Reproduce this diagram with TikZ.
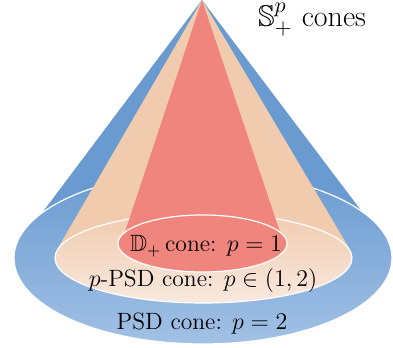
\documentclass[tikz,border=0pt]{standalone}
\usepackage{amsmath,amssymb}
\usepackage{xcolor}
\usepackage{tikz}
\definecolor{psdtop}{HTML}{6A9BD0}
\definecolor{psdbot}{HTML}{A2C1E5}
\definecolor{ppsdtop}{HTML}{F1CBAE}
\definecolor{ppsdbot}{HTML}{F8E9DF}
\definecolor{diagcol}{HTML}{F0857D}

\begin{document}
\begin{tikzpicture}[x=0.5pt,y=-0.5pt,
  lbl/.style={font=\fontsize{11.8}{14}\selectfont,inner sep=0pt,anchor=base},
  rim/.style={draw=white,line width=0.6pt},
]
\useasboundingbox (0,0) rectangle (393,348);
\coordinate (apex) at (202,0);

% outer cone: PSD
\fill[psdtop] (apex) -- (39,217) -- (366,217) -- cycle;
\shade[top color=psdtop,bottom color=psdbot] (203,258) ellipse [x radius=189,y radius=86];
\draw[rim] (203,258) ellipse [x radius=189,y radius=86];

% middle cone: p-PSD
\fill[ppsdtop] (apex) -- (58,248) -- (349,248) -- cycle;
\shade[top color=ppsdtop,bottom color=ppsdbot] (203.5,258) ellipse [x radius=148.5,y radius=45];
\draw[rim] (203.5,258) ellipse [x radius=148.5,y radius=45];

% inner cone: D_+
\fill[diagcol] (apex) -- (125,232) -- (280,232) -- cycle;
\fill[diagcol] (202.5,243.5) ellipse [x radius=84.5,y radius=28.5];
\draw[rim] (202.5,243.5) ellipse [x radius=84.5,y radius=28.5];

\node[lbl] (dlab) at (206,252) {$\mathbb{D}_+$\,cone: $p=1$};
\node[lbl] (plab) at (203,287) {$p$-PSD cone: $p\in(1,2)$};
\node[lbl] (slab) at (202,330) {PSD cone: $p=2$};
\node[lbl,font=\fontsize{15}{18}\selectfont] (title) at (312,26.5) {$\mathbb{S}^p_+$ cones};
\end{tikzpicture}
\end{document}
